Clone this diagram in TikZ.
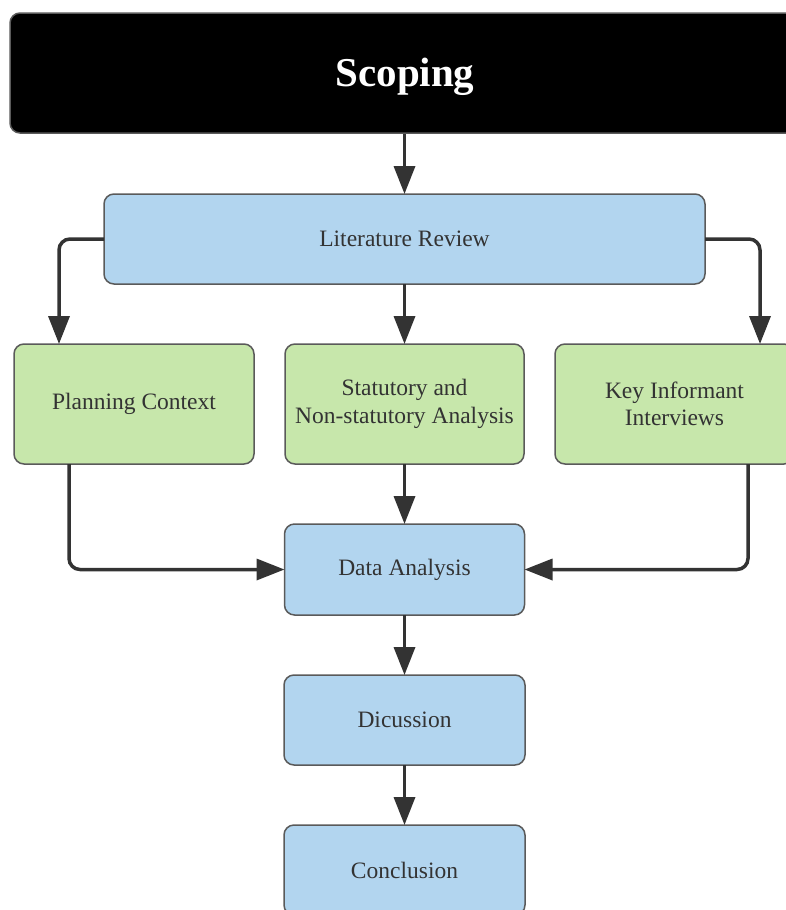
\documentclass[tikz,border=0pt]{standalone}
\usepackage{fontspec}
\setmainfont{Liberation Serif}
\usetikzlibrary{arrows.meta}
\definecolor{boxblue}{HTML}{B2D5EF}
\definecolor{boxgreen}{HTML}{C7E7AB}
\definecolor{edgegray}{HTML}{5A5A5A}
\definecolor{txtgray}{HTML}{333333}
\definecolor{arrowgray}{HTML}{333333}
\begin{document}
\begin{tikzpicture}[x=1pt,y=-1pt,
  box/.style={draw=edgegray,line width=1.5pt,rounded corners=10pt,align=center,
    text=txtgray,font=\fontsize{23.5}{27.5}\selectfont,inner sep=0pt,outer sep=0pt},
  bluebox/.style={box,fill=boxblue},
  greenbox/.style={box,fill=boxgreen},
  conn/.style={draw=arrowgray,line width=3.5pt,rounded corners=11pt,
    -{Triangle[length=28pt,width=21pt]}}]
\useasboundingbox (0,0) rectangle (786,910);
\node[draw=edgegray,line width=1.5pt,fill=black,rounded corners=10pt,
  minimum width=790pt,minimum height=120pt,inner sep=0pt,text=white,
  font=\bfseries\fontsize{41}{48}\selectfont] (scoping) at (405,73) {\raisebox{-4pt}[\height][\depth]{Scoping}};
\node[bluebox,minimum width=601pt,minimum height=90pt] (lr) at (404.5,239) {Literature Review};
\node[greenbox,minimum width=240pt,minimum height=120pt] (plan) at (134,404) {Planning Context};
\node[greenbox,minimum width=239pt,minimum height=120pt] (stat) at (404.5,404) {Statutory and\\Non-statutory Analysis};
\node[greenbox,minimum width=239pt,minimum height=120pt] (key) at (674.5,404) {Key Informant\\Interviews};
\node[bluebox,minimum width=240pt,minimum height=91pt] (da) at (404.5,569.5) {Data Analysis};
\node[bluebox,minimum width=241pt,minimum height=90pt] (dic) at (404.5,720) {Dicussion};
\node[bluebox,minimum width=241pt,minimum height=90pt] (conc) at (404.5,870) {Conclusion};
\draw[conn] (lr.north |- scoping.south) -- (lr.north);
\draw[conn] (lr.west) -| ([xshift=-75pt]plan.north);
\draw[conn] (lr.east) -| ([xshift=85.5pt]key.north);
\draw[conn] (lr.south) -- (stat.north);
\draw[conn] (stat.south) -- (da.north);
\draw[conn] ([xshift=-65pt]plan.south) |- (da.west);
\draw[conn] ([xshift=73.5pt]key.south) |- (da.east);
\draw[conn] (da.south) -- (dic.north);
\draw[conn] (dic.south) -- (conc.north);
\end{tikzpicture}
\end{document}
